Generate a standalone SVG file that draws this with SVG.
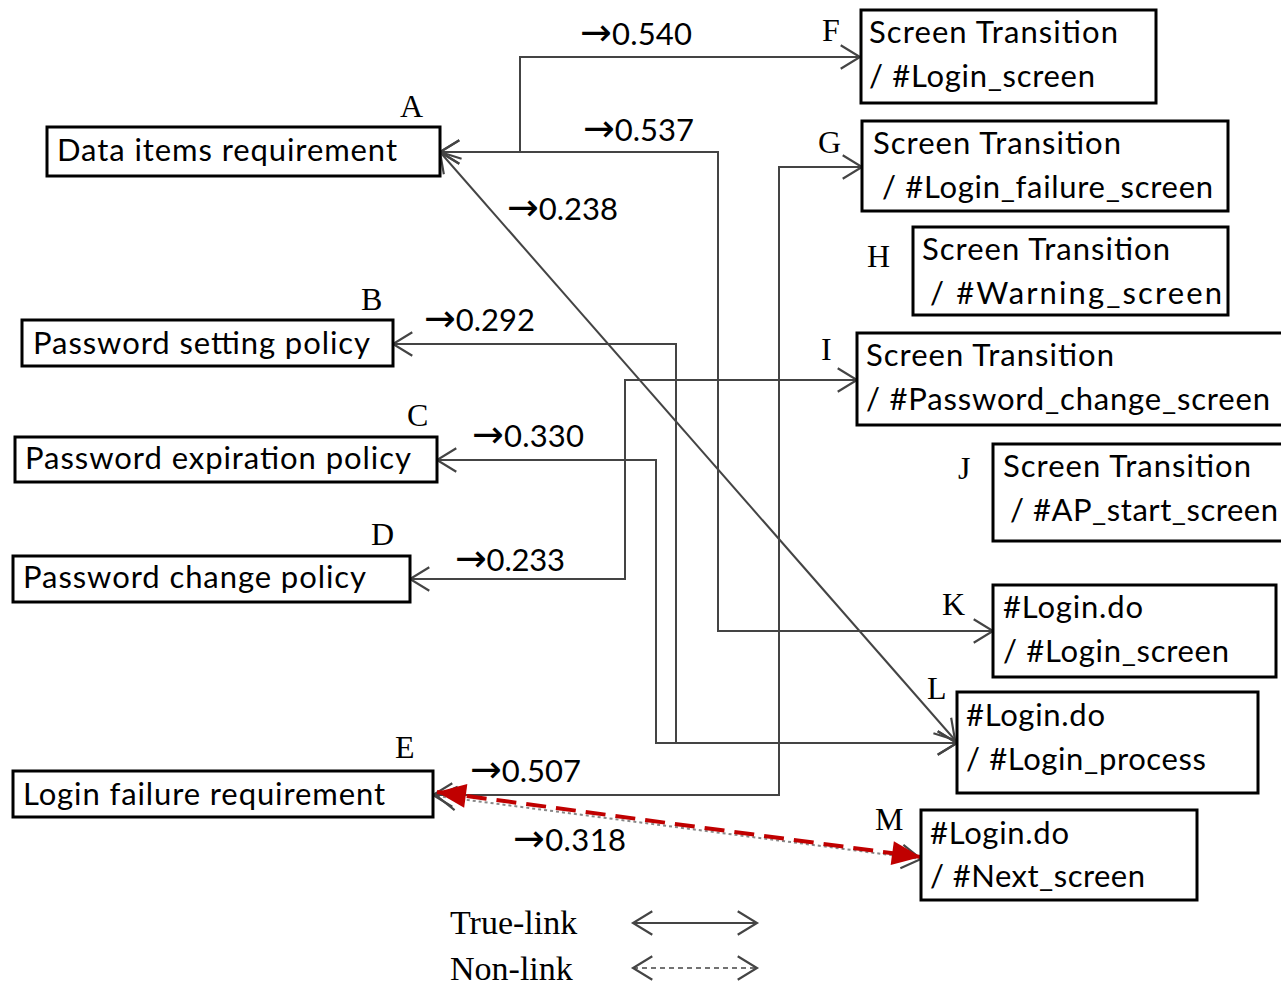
<svg xmlns="http://www.w3.org/2000/svg" width="1281" height="985" viewBox="0 0 1281 985">
<defs>
<style>
.box{fill:#fff;stroke:#000;stroke-width:3}
.t{font-family:Lato,"Open Sans","Liberation Sans",sans-serif;font-size:31px;fill:#000}
.lab{font-family:"Liberation Serif","Times New Roman",serif;font-size:32px;fill:#000}
.num{font-family:Lato,"Open Sans","Liberation Sans",sans-serif;font-size:31px;fill:#000}
.ar{font-family:"DejaVu Sans",sans-serif;font-size:38px}
.leg{font-family:"Liberation Serif","Times New Roman",serif;font-size:34px;fill:#000}
.c{fill:none;stroke:#444;stroke-width:2;marker-start:url(#oa);marker-end:url(#oa)}
</style>
<marker id="oa" markerUnits="userSpaceOnUse" markerWidth="30" markerHeight="30" viewBox="-20 -14 24 28" refX="0" refY="0" orient="auto-start-reverse" overflow="visible">
<path d="M-18,-11 L0,0 L-18,11" fill="none" stroke="#444" stroke-width="2"/>
</marker>
<marker id="ra" markerUnits="userSpaceOnUse" markerWidth="34" markerHeight="30" viewBox="-32 -14 34 28" refX="0" refY="0" orient="auto-start-reverse" overflow="visible">
<path d="M-29,-12 L0,0 L-29,12 Z" fill="#c00000"/>
</marker>
</defs>

<g id="connectors">
<path class="c" d="M440,152 H520 V57 H860"/>
<path class="c" d="M440,152 H718 V631 H993"/>
<path class="c" d="M440,152 L955,740"/>
<path class="c" d="M393,344 H676 V743 H957"/>
<path class="c" d="M437,460 H656 V743 H957"/>
<path class="c" d="M410,579 H625 V380 H857"/>
<path class="c" d="M433,795 H779 V167 H862"/>
<path d="M437,796 L921,859" fill="none" stroke="#888" stroke-width="2" stroke-dasharray="3,3" marker-start="url(#oa)" marker-end="url(#oa)"/>
<path d="M437,792 L921,857" fill="none" stroke="#c00000" stroke-width="4" stroke-dasharray="20,10" marker-start="url(#ra)" marker-end="url(#ra)"/>
</g>

<g id="labels">
<text class="num" x="580" y="45" textLength="112"><tspan class="ar">→</tspan>0.540</text>
<text class="num" x="583" y="141" textLength="111"><tspan class="ar">→</tspan>0.537</text>
<text class="num" x="507" y="220" textLength="111"><tspan class="ar">→</tspan>0.238</text>
<text class="num" x="424" y="331" textLength="111"><tspan class="ar">→</tspan>0.292</text>
<text class="num" x="472" y="447" textLength="112"><tspan class="ar">→</tspan>0.330</text>
<text class="num" x="455" y="571" textLength="110"><tspan class="ar">→</tspan>0.233</text>
<text class="num" x="470" y="782" textLength="111"><tspan class="ar">→</tspan>0.507</text>
<text class="num" x="513" y="851" textLength="113"><tspan class="ar">→</tspan>0.318</text>
</g>

<g id="A"><rect class="box" x="47" y="127" width="393" height="49"/><text class="t" x="57" y="161" textLength="340">Data items requirement</text><text class="lab" x="400" y="117">A</text></g>
<g id="B"><rect class="box" x="22" y="320" width="371" height="46"/><text class="t" x="33" y="354" textLength="337">Password setting policy</text><text class="lab" x="361" y="310">B</text></g>
<g id="C"><rect class="box" x="15" y="437" width="422" height="45"/><text class="t" x="25" y="469" textLength="386">Password expiration policy</text><text class="lab" x="407" y="426">C</text></g>
<g id="D"><rect class="box" x="13" y="556" width="397" height="46"/><text class="t" x="23" y="588" textLength="343">Password change policy</text><text class="lab" x="371" y="545">D</text></g>
<g id="E"><rect class="box" x="13" y="771" width="420" height="46"/><text class="t" x="23" y="805" textLength="362">Login failure requirement</text><text class="lab" x="395" y="758">E</text></g>
<g id="F"><rect class="box" x="861" y="10" width="295" height="93"/><text class="t" x="869" y="43" textLength="249">Screen Transition</text><text class="t" x="869" y="87" textLength="226">/ #Login_screen</text><text class="lab" x="822" y="41">F</text></g>
<g id="G"><rect class="box" x="862" y="121" width="366" height="90"/><text class="t" x="873" y="154" textLength="248">Screen Transition</text><text class="t" x="882" y="198" textLength="331">/ #Login_failure_screen</text><text class="lab" x="818" y="153">G</text></g>
<g id="H"><rect class="box" x="913" y="227" width="315" height="88"/><text class="t" x="922" y="260" textLength="248">Screen Transition</text><text class="t" x="930" y="304" textLength="292">/ #Warning_screen</text><text class="lab" x="867" y="267">H</text></g>
<g id="I"><rect class="box" x="857" y="333" width="440" height="92"/><text class="t" x="866" y="366" textLength="248">Screen Transition</text><text class="t" x="866" y="410" textLength="404">/ #Password_change_screen</text><text class="lab" x="821" y="360">I</text></g>
<g id="J"><rect class="box" x="993" y="444" width="300" height="97"/><text class="t" x="1003" y="477" textLength="248">Screen Transition</text><text class="t" x="1010" y="521" textLength="268">/ #AP_start_screen</text><text class="lab" x="958" y="479">J</text></g>
<g id="K"><rect class="box" x="993" y="585" width="283" height="92"/><text class="t" x="1003" y="618" textLength="140">#Login.do</text><text class="t" x="1003" y="662" textLength="226">/ #Login_screen</text><text class="lab" x="942" y="615">K</text></g>
<g id="L"><rect class="box" x="957" y="692" width="301" height="101"/><text class="t" x="966" y="726" textLength="139">#Login.do</text><text class="t" x="966" y="770" textLength="240">/ #Login_process</text><text class="lab" x="927" y="699">L</text></g>
<g id="M"><rect class="box" x="921" y="810" width="276" height="90"/><text class="t" x="930" y="844" textLength="139">#Login.do</text><text class="t" x="930" y="887" textLength="215">/ #Next_screen</text><text class="lab" x="875" y="830">M</text></g>

<g id="legend">
<text class="leg" x="450" y="934">True-link</text>
<text class="leg" x="450" y="980">Non-link</text>
<path d="M633,923 H757" fill="none" stroke="#444" stroke-width="2" marker-start="url(#oa)" marker-end="url(#oa)"/>
<path d="M633,968 H757" fill="none" stroke="#444" stroke-width="1.5" stroke-dasharray="5,4" marker-start="url(#oa)" marker-end="url(#oa)"/>
</g>
</svg>
